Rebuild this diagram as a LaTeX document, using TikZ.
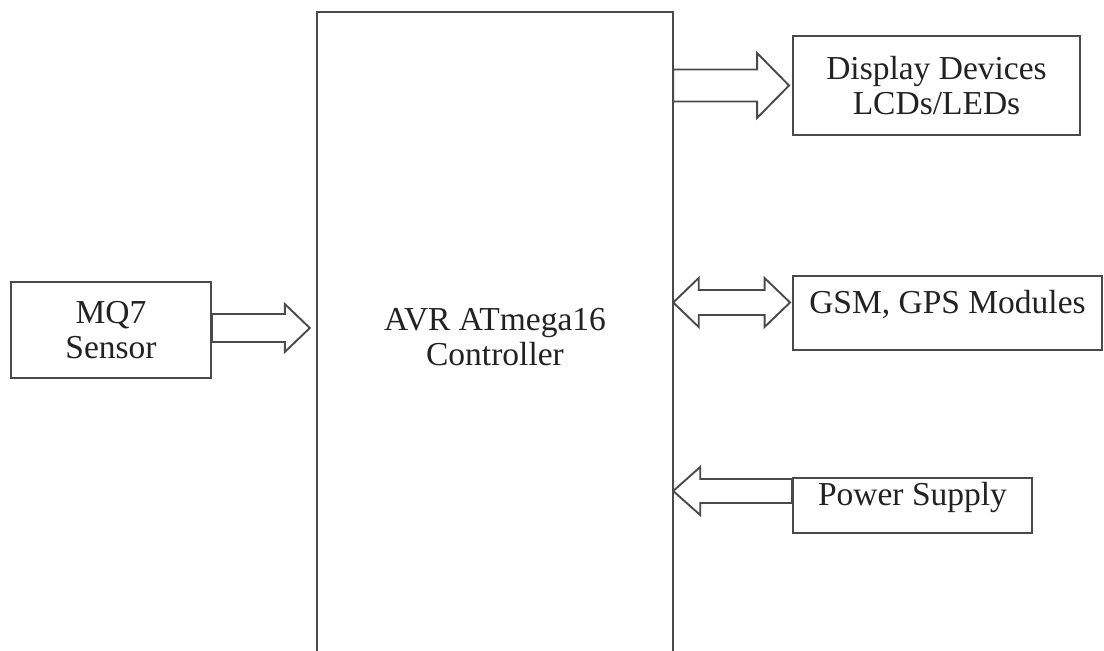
\documentclass[tikz,border=0pt]{standalone}
\usepackage{fontspec}
\setmainfont{Liberation Serif}
\usetikzlibrary{calc}

\definecolor{linegray}{HTML}{4A4A4A}
\definecolor{textgray}{HTML}{222222}

\tikzset{
  shaft/.store in=\shafthalf, head/.store in=\headhalf, headlen/.store in=\headlen,
  shaft=14pt, head=24pt, headlen=25pt,
  block/.style={draw=linegray, line width=1.9pt, inner sep=0pt, align=center, text=textgray},
  % hollow arrow with one head, from tail to tip
  fatarrow/.style={draw=linegray, line width=1.9pt, to path={
    let \p1=(\tikztostart), \p2=(\tikztotarget), \n1={sign(\x2-\x1)} in
    (\x1,\y1+\shafthalf) -- (\x2-\n1*\headlen,\y1+\shafthalf)
    -- (\x2-\n1*\headlen,\y1+\headhalf) -- (\x2,\y1)
    -- (\x2-\n1*\headlen,\y1-\headhalf) -- (\x2-\n1*\headlen,\y1-\shafthalf)
    -- (\x1,\y1-\shafthalf) -- cycle}},
  % hollow arrow with heads at both ends
  dfatarrow/.style={draw=linegray, line width=1.9pt, to path={
    let \p1=(\tikztostart), \p2=(\tikztotarget), \n1={sign(\x2-\x1)} in
    (\x1,\y1) -- (\x1+\n1*\headlen,\y1+\headhalf) -- (\x1+\n1*\headlen,\y1+\shafthalf)
    -- (\x2-\n1*\headlen,\y1+\shafthalf) -- (\x2-\n1*\headlen,\y1+\headhalf) -- (\x2,\y1)
    -- (\x2-\n1*\headlen,\y1-\headhalf) -- (\x2-\n1*\headlen,\y1-\shafthalf)
    -- (\x1+\n1*\headlen,\y1-\shafthalf) -- (\x1+\n1*\headlen,\y1-\headhalf) -- cycle}}
}

\begin{document}
\begin{tikzpicture}[x=1pt,y=-1pt,font=\fontsize{33.5}{35}\selectfont]
  \useasboundingbox (0,0) rectangle (1104,651);

  \node[block, minimum width=200pt, minimum height=96pt] (mq7) at (111,330) {MQ7\\Sensor};
  \node[inner sep=0pt, minimum width=356pt, minimum height=639pt,
        label={[text=textgray, align=center, yshift=-6pt]center:{AVR ATmega16\\Controller}}] (ctrl) at (495,331.5) {};
  \node[block, minimum width=287pt, minimum height=99pt] (disp) at (936.5,85.5) {Display Devices\\LCDs/LEDs};
  \node[block, minimum width=309pt, minimum height=74pt,
        label={[text=textgray, yshift=9pt]center:{GSM, GPS Modules}}] (gsm) at (947.5,313) {};
  \node[block, minimum width=239pt, minimum height=55pt,
        label={[text=textgray, yshift=8pt]center:{Power Supply}}] (power) at (912.5,505.5) {};

  % controller box runs off the bottom
  \draw[draw=linegray, line width=1.9pt] (ctrl.south west) |- (ctrl.north east) -- (ctrl.south east);

  \draw[fatarrow] ($(mq7.east)+(0,-2)$) to ($(ctrl.west |- mq7.east)+(-7,-2)$);
  \draw[fatarrow, shaft=16pt, head=32.5pt, headlen=32pt] (ctrl.east |- disp.west) to ($(disp.west)+(-3,0)$);
  \draw[dfatarrow, shaft=12.5pt, head=24.5pt, headlen=25.5pt]
    ($(ctrl.east |- gsm.west)+(0,-10.5)$) to ($(gsm.west)+(-2,-10.5)$);
  \draw[fatarrow, shaft=12pt, head=24pt, headlen=27pt]
    ($(power.west)+(0,-14.5)$) to ($(ctrl.east |- power.west)+(0,-14.5)$);
\end{tikzpicture}
\end{document}
